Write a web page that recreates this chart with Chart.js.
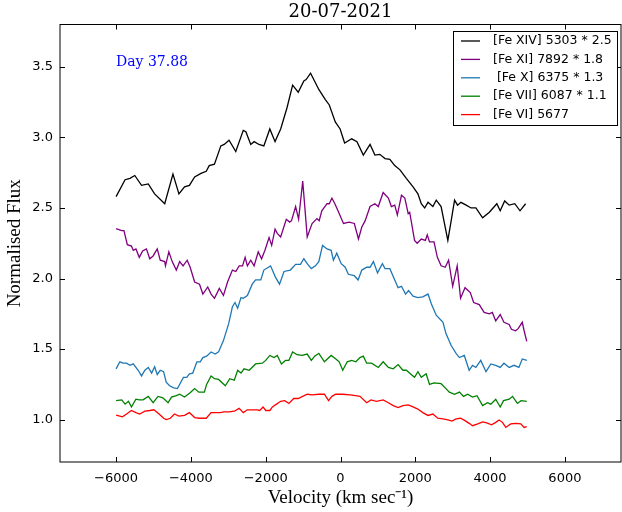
<!DOCTYPE html>
<html>
<head>
<meta charset="utf-8">
<script src="https://cdn.jsdelivr.net/npm/chart.js@4.4.1/dist/chart.umd.min.js"></script>
<style>
  html, body { margin: 0; padding: 0; background: #fff; }
  #wrap { width: 622px; height: 512px; }
</style>
</head>
<body>
<div id="wrap"><canvas id="lineChart"></canvas></div>
<script>
// tick labels
const xTicks = [-6000, -4000, -2000, 0, 2000, 4000, 6000];
const yTicks = [1.0, 1.5, 2.0, 2.5, 3.0, 3.5];

const seriesNames = ['[Fe XIV] 5303 * 2.5', '[Fe XI] 7892 * 1.8', ' [Fe X] 6375 * 1.3', '[Fe VII] 6087 * 1.1', '[Fe VI] 5677'];
const seriesColors = ['#000000', '#800080', '#1f77b4', '#008000', '#ff0000'];

// [Fe XIV] 5303 (scaled x2.5)
const feXivVel = [-6000,-5760,-5630,-5500,-5320,-5140,-4970,-4700,-4480,-4320,-4170,-4040,-3900,-3730,-3590,-3510,-3370,-3200,-3110,-2980,-2800,-2600,-2530,-2400,-2310,-2180,-2050,-1890,-1750,-1600,-1430,-1280,-1130,-980,-920,-800,-580,-410,-300,-140,-10,110,300,440,610,790,920,1050,1190,1320,1450,1590,1760,1940,2070,2160,2250,2340,2470,2560,2690,2870,2960,3050,3130,3220,3360,3490,3620,3800,3980,4180,4270,4390,4510,4660,4800,4950];
const feXivFlux = [2.58,2.70,2.71,2.73,2.66,2.67,2.60,2.53,2.74,2.60,2.65,2.66,2.72,2.745,2.76,2.80,2.81,2.94,2.95,2.98,2.90,3.05,3.04,2.95,2.97,2.95,2.94,3.06,2.97,3.06,3.21,3.37,3.32,3.40,3.41,3.455,3.34,3.27,3.23,3.11,3.06,2.96,2.99,2.97,2.875,2.95,2.875,2.88,2.85,2.845,2.80,2.77,2.71,2.65,2.60,2.53,2.50,2.54,2.51,2.555,2.51,2.27,2.41,2.555,2.52,2.54,2.52,2.50,2.50,2.43,2.47,2.53,2.48,2.55,2.52,2.53,2.48,2.53];

// [Fe XI] 7892 (scaled x1.8)
const feXiVel = [-6000,-5850,-5790,-5700,-5590,-5540,-5470,-5380,-5290,-5190,-5100,-5010,-4900,-4820,-4700,-4680,-4590,-4500,-4390,-4300,-4210,-4100,-4020,-3900,-3770,-3680,-3550,-3460,-3370,-3240,-3130,-3020,-2890,-2800,-2710,-2620,-2550,-2490,-2400,-2310,-2200,-2110,-2020,-1910,-1840,-1750,-1690,-1600,-1450,-1360,-1310,-1200,-1120,-1010,-890,-760,-630,-570,-500,-360,-300,-230,-150,-50,80,230,370,480,570,660,790,920,1010,1140,1280,1360,1450,1520,1630,1720,1810,1850,1980,2050,2160,2270,2320,2380,2500,2590,2690,2800,2890,3000,3120,3210,3330,3470,3560,3710,3840,3980,4060,4150,4270,4370,4510,4570,4680,4750,4860,4910,4980];
const feXiFlux = [2.354,2.34,2.34,2.24,2.23,2.20,2.21,2.15,2.195,2.21,2.14,2.16,2.21,2.13,2.12,2.09,2.19,2.12,2.06,2.12,2.09,2.13,2.08,1.975,1.96,1.89,1.94,1.89,1.86,1.93,1.88,1.975,2.06,2.05,2.09,2.09,2.15,2.09,2.13,2.09,2.19,2.14,2.20,2.29,2.235,2.35,2.32,2.295,2.42,2.40,2.41,2.51,2.42,2.69,2.295,2.39,2.425,2.41,2.48,2.53,2.53,2.57,2.53,2.47,2.39,2.40,2.39,2.28,2.365,2.41,2.51,2.53,2.51,2.61,2.57,2.51,2.52,2.45,2.59,2.57,2.46,2.47,2.27,2.25,2.28,2.27,2.31,2.26,2.26,2.15,2.09,2.08,2.13,1.945,2.09,1.86,1.935,1.90,1.83,1.815,1.76,1.75,1.76,1.70,1.745,1.69,1.675,1.64,1.63,1.645,1.69,1.63,1.555];

// [Fe X] 6375 (scaled x1.3)
const feXVel = [-6000,-5900,-5810,-5720,-5630,-5540,-5410,-5320,-5230,-5140,-5050,-4970,-4900,-4820,-4730,-4660,-4570,-4460,-4360,-4280,-4200,-4110,-4040,-3950,-3840,-3750,-3680,-3580,-3460,-3350,-3260,-3130,-2990,-2890,-2820,-2750,-2660,-2600,-2490,-2360,-2270,-2130,-2050,-1870,-1740,-1630,-1510,-1340,-1200,-1070,-980,-890,-780,-670,-580,-480,-360,-250,-190,-100,20,125,210,370,470,570,700,790,880,990,1120,1190,1320,1450,1540,1630,1740,1820,1940,2070,2200,2340,2430,2560,2740,2820,2960,3090,3180,3310,3440,3530,3620,3750,3890,4020,4150,4270,4370,4510,4640,4770,4860,4980];
const feXFlux = [1.36,1.41,1.40,1.40,1.385,1.395,1.35,1.31,1.35,1.37,1.33,1.375,1.32,1.35,1.34,1.265,1.24,1.225,1.22,1.26,1.30,1.30,1.325,1.33,1.41,1.41,1.44,1.45,1.48,1.465,1.48,1.56,1.68,1.80,1.83,1.79,1.865,1.86,1.88,1.96,1.99,1.99,2.06,2.09,2.01,1.96,2.05,2.06,2.10,2.10,2.14,2.105,2.07,2.09,2.12,2.235,2.21,2.20,2.13,2.18,2.105,2.08,2.03,2.02,1.99,2.06,2.08,2.08,2.12,2.04,2.105,2.07,2.07,1.99,1.935,1.945,1.89,1.915,1.875,1.865,1.87,1.89,1.82,1.74,1.69,1.61,1.525,1.47,1.44,1.455,1.35,1.385,1.37,1.42,1.34,1.395,1.385,1.37,1.40,1.37,1.385,1.37,1.43,1.42];

// [Fe VII] 6087 (scaled x1.1)
const feViiVel = [-6000,-5850,-5760,-5670,-5590,-5470,-5380,-5280,-5140,-5010,-4880,-4750,-4610,-4520,-4390,-4300,-4170,-4020,-3900,-3790,-3640,-3580,-3460,-3370,-3260,-3080,-2960,-2840,-2750,-2660,-2580,-2440,-2270,-2090,-2000,-1890,-1780,-1690,-1580,-1470,-1380,-1280,-1160,-1030,-890,-780,-690,-580,-430,-250,-125,-35,60,180,300,410,520,610,700,830,1010,1140,1280,1410,1540,1670,1760,1890,1980,2070,2160,2290,2380,2500,2690,2800,2910,3050,3180,3290,3400,3530,3650,3800,3930,4020,4150,4270,4360,4510,4600,4730,4830,4980];
const feViiFlux = [1.135,1.14,1.11,1.13,1.09,1.145,1.14,1.14,1.165,1.12,1.165,1.155,1.12,1.16,1.17,1.18,1.16,1.19,1.22,1.195,1.195,1.25,1.31,1.29,1.285,1.24,1.29,1.28,1.35,1.33,1.36,1.35,1.395,1.40,1.42,1.455,1.44,1.455,1.395,1.42,1.42,1.48,1.46,1.455,1.465,1.42,1.45,1.47,1.41,1.455,1.43,1.41,1.35,1.41,1.42,1.41,1.44,1.45,1.40,1.40,1.37,1.41,1.37,1.36,1.39,1.35,1.35,1.32,1.30,1.34,1.30,1.325,1.25,1.26,1.255,1.225,1.195,1.18,1.195,1.165,1.18,1.16,1.17,1.10,1.12,1.11,1.145,1.09,1.135,1.145,1.165,1.115,1.135,1.13];

// [Fe VI] 5677
const feViVel = [-6000,-5830,-5720,-5590,-5470,-5370,-5230,-5100,-4990,-4850,-4730,-4660,-4550,-4440,-4320,-4170,-4040,-3900,-3770,-3590,-3460,-3350,-3220,-3110,-2980,-2840,-2710,-2600,-2490,-2360,-2220,-2160,-2070,-2000,-1890,-1820,-1740,-1600,-1490,-1380,-1250,-1130,-1010,-890,-760,-580,-430,-320,-230,-130,50,260,400,520,700,815,960,1140,1280,1410,1540,1670,1810,1940,2070,2200,2340,2470,2600,2740,2870,2980,3090,3210,3330,3440,3530,3670,3800,3910,4040,4150,4240,4330,4420,4550,4680,4820,4910,4980];
const feViFlux = [1.033,1.02,1.04,1.065,1.05,1.04,1.06,1.065,1.07,1.04,1.01,1.00,1.01,1.04,1.025,1.03,1.05,1.015,1.01,1.01,1.05,1.05,1.05,1.055,1.055,1.06,1.08,1.05,1.07,1.07,1.07,1.065,1.09,1.065,1.065,1.09,1.105,1.13,1.135,1.115,1.15,1.15,1.165,1.18,1.175,1.18,1.18,1.135,1.165,1.18,1.18,1.175,1.17,1.165,1.12,1.14,1.13,1.14,1.12,1.10,1.085,1.10,1.105,1.09,1.075,1.05,1.03,1.04,1.01,1.005,0.998,0.99,1.005,1.01,0.993,0.974,0.957,0.97,0.984,0.977,0.964,0.981,0.998,0.981,0.945,0.97,0.974,0.97,0.945,0.95];

const velArrays = [feXivVel, feXiVel, feXVel, feViiVel, feViVel];
const fluxArrays = [feXivFlux, feXiFlux, feXFlux, feViiFlux, feViFlux];

function fmtTick(v) {
  return v < 0 ? '\u2212' + Math.abs(v) : String(v);
}

const decorPlugin = {
  id: 'decor',
  afterDraw(chart) {
    const { ctx, chartArea: a } = chart;
    const xs = chart.scales.x, ys = chart.scales.y;
    ctx.save();

    // frame
    ctx.strokeStyle = '#000';
    ctx.lineWidth = 1;
    ctx.strokeRect(a.left, a.top, a.right - a.left, a.bottom - a.top);

    // inward ticks on all four sides
    ctx.beginPath();
    xTicks.forEach(v => {
      const px = Math.round(xs.getPixelForValue(v)) + 0.5;
      ctx.moveTo(px, a.bottom); ctx.lineTo(px, a.bottom - 5);
      ctx.moveTo(px, a.top); ctx.lineTo(px, a.top + 5);
    });
    yTicks.forEach(v => {
      const py = Math.round(ys.getPixelForValue(v)) + 0.5;
      ctx.moveTo(a.left, py); ctx.lineTo(a.left + 5, py);
      ctx.moveTo(a.right, py); ctx.lineTo(a.right - 5, py);
    });
    ctx.stroke();

    // title
    ctx.fillStyle = '#000';
    ctx.font = '18px "DejaVu Serif"';
    ctx.textAlign = 'center';
    ctx.textBaseline = 'middle';
    ctx.fillText('20-07-2021', (a.left + a.right) / 2, 12);

    // day label
    ctx.fillStyle = '#0000ff';
    ctx.font = '14px "DejaVu Serif"';
    ctx.textAlign = 'left';
    ctx.fillText('Day 37.88', 116, 62);

    // legend
    const bx = 453.5, by = 31.5, bw = 164, bh = 94;
    ctx.fillStyle = '#fff';
    ctx.fillRect(bx, by, bw, bh);
    ctx.strokeStyle = '#000';
    ctx.strokeRect(bx, by, bw, bh);
    ctx.font = '12.5px "DejaVu Sans"';
    ctx.textBaseline = 'middle';
    chart.data.datasets.forEach((ds, i) => {
      const ry = 41 + i * 18.4;
      ctx.strokeStyle = ds.borderColor;
      ctx.lineWidth = 1.3;
      ctx.beginPath();
      ctx.moveTo(461, ry); ctx.lineTo(480, ry);
      ctx.stroke();
      ctx.fillStyle = '#000';
      ctx.fillText(ds.label, 493, ry);
    });
    ctx.restore();
  }
};

const ctx = document.getElementById('lineChart').getContext('2d');
const lineChart = new Chart(ctx, {
  type: 'line',
  data: {
    datasets: seriesNames.map((name, i) => ({
      label: name,
      data: velArrays[i].map((v, k) => ({ x: v, y: fluxArrays[i][k] })),
      borderColor: seriesColors[i],
      borderWidth: 1.3,
      pointRadius: 0,
      tension: 0,
      fill: false
    }))
  },
  options: {
    responsive: true,
    maintainAspectRatio: false,
    animation: false,
    layout: { padding: { top: 24.5, right: 1, left: 0, bottom: 0 } },
    plugins: {
      legend: { display: false },
      title: { display: false },
      tooltip: { enabled: false }
    },
    scales: {
      x: {
        type: 'linear',
        min: -7500,
        max: 7500,
        afterBuildTicks: s => { s.ticks = xTicks.map(v => ({ value: v })); },
        afterFit: s => { s.height = 50; },
        grid: { display: false, drawTicks: false },
        border: { display: false },
        ticks: {
          autoSkip: false,
          maxRotation: 0,
          padding: 9,
          color: '#000',
          font: { family: 'DejaVu Sans', size: 13 },
          callback: v => fmtTick(v)
        },
        title: {
          display: true,
          text: 'Velocity (km sec\u207B\u00B9)',
          color: '#000',
          font: { family: 'Liberation Serif', size: 19 },
          padding: { top: 0, bottom: 3 }
        }
      },
      y: {
        min: 0.7,
        max: 3.8,
        afterBuildTicks: s => { s.ticks = yTicks.map(v => ({ value: v })); },
        afterFit: s => { s.width = 60; },
        grid: { display: false, drawTicks: false },
        border: { display: false },
        ticks: {
          padding: 7,
          color: '#000',
          font: { family: 'DejaVu Sans', size: 13 },
          callback: v => v.toFixed(1)
        },
        title: {
          display: true,
          text: 'Normalised Flux',
          color: '#000',
          font: { family: 'Liberation Serif', size: 19 },
          padding: { top: 4, bottom: 0 }
        }
      }
    }
  },
  plugins: [decorPlugin]
});
</script>
</body>
</html>
